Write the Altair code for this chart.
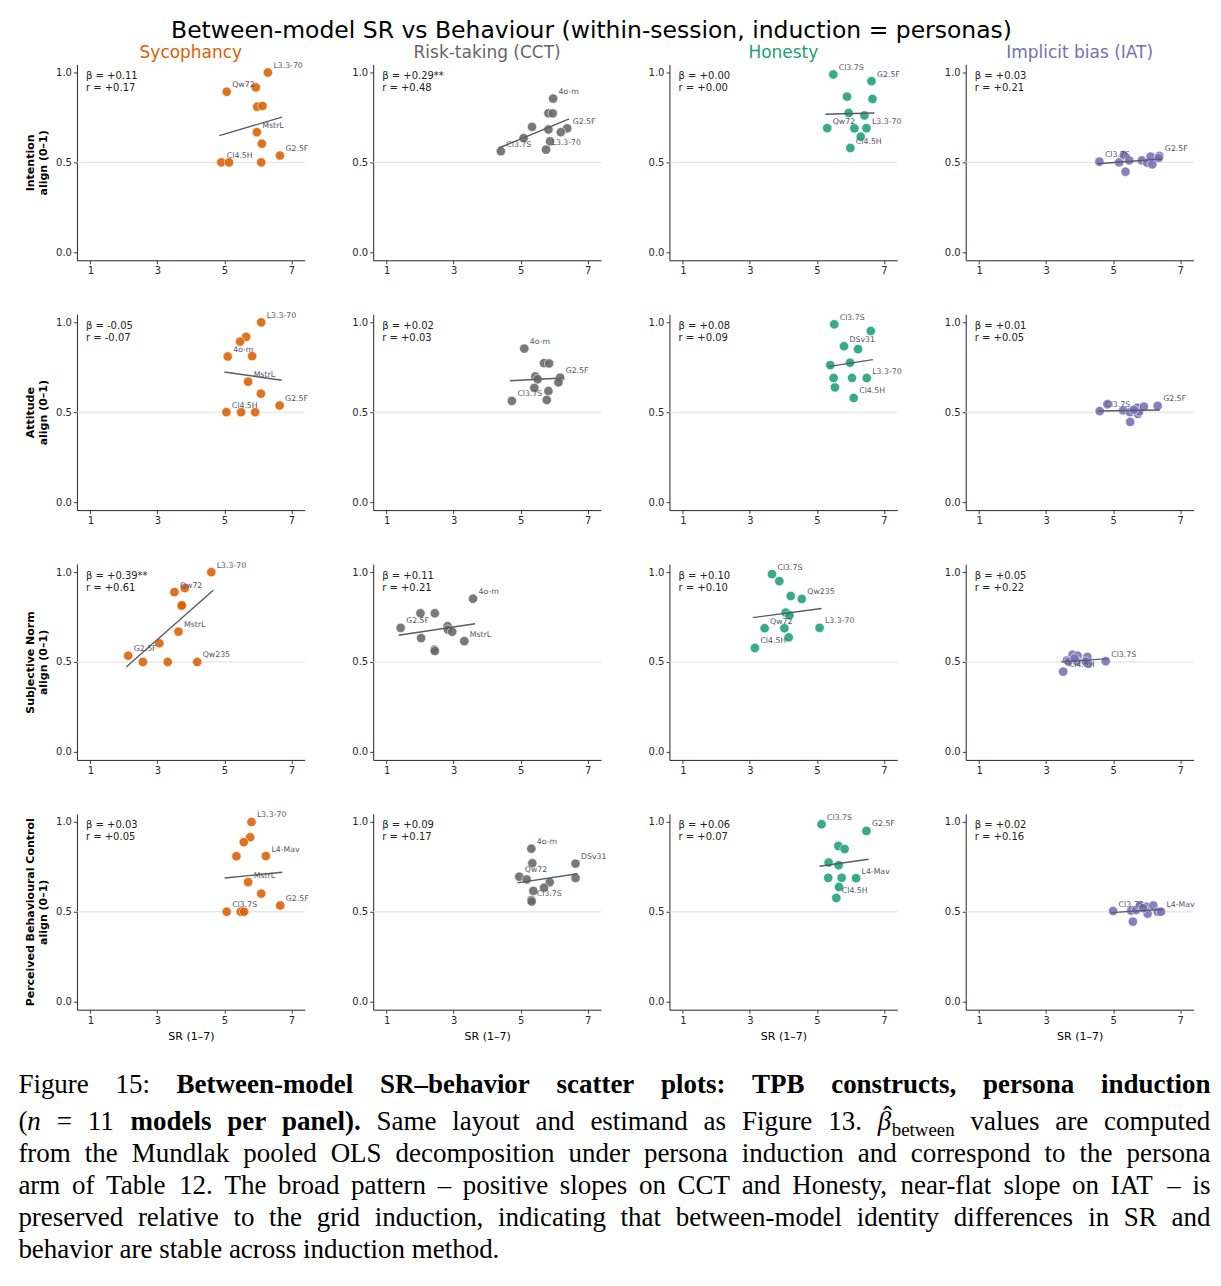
import altair as alt
import pandas as pd

SANS = "DejaVu Sans"
SERIF = "Liberation Serif"

SUPTITLE = "Between-model SR vs Behaviour (within-session, induction = personas)"
BEHAVIOURS = ["Sycophancy", "Risk-taking (CCT)", "Honesty", "Implicit bias (IAT)"]
BEHAVIOUR_COLORS = ["#d95f02", "#666666", "#1b9e77", "#7570b3"]
CONSTRUCTS = ["Intention", "Attitude", "Subjective Norm", "Perceived Behavioural Control"]
Y_UNIT = "align (0–1)"
X_TITLE = "SR (1–7)"
X_TICKS = [1, 3, 5, 7]
Y_TICKS = [0.0, 0.5, 1.0]
NEUTRAL = 0.5

# ---- Intention ----
INT_SYC_SR = [6.30, 5.07, 5.94, 5.98, 6.14, 5.97, 6.12, 6.66, 4.91, 5.14, 6.10]
INT_SYC_AL = [1.000, 0.893, 0.917, 0.810, 0.814, 0.668, 0.604, 0.538, 0.500, 0.500, 0.500]
INT_SYC_LB = ["L3.3-70", "Qw72", "", "", "", "MstrL", "", "G2.5F", "Cl4.5H", "", ""]

INT_CCT_SR = [5.97, 5.83, 5.96, 5.34, 5.83, 6.39, 6.20, 5.09, 5.88, 4.41, 5.76]
INT_CCT_AL = [0.855, 0.773, 0.773, 0.698, 0.683, 0.689, 0.668, 0.635, 0.617, 0.562, 0.571]
INT_CCT_LB = ["4o-m", "", "", "", "", "G2.5F", "", "", "", "Cl3.7S", "L3.3-70"]

INT_HON_SR = [5.49, 6.63, 5.90, 6.66, 5.95, 6.42, 5.31, 6.12, 6.48, 6.31, 6.00]
INT_HON_AL = [0.989, 0.952, 0.866, 0.853, 0.775, 0.761, 0.691, 0.689, 0.691, 0.643, 0.580]
INT_HON_LB = ["Cl3.7S", "G2.5F", "", "", "", "", "Qw72", "", "L3.3-70", "", "Cl4.5H"]

INT_IAT_SR = [4.59, 5.18, 5.32, 5.48, 5.37, 5.86, 6.02, 6.12, 6.17, 6.38, 6.36]
INT_IAT_AL = [0.504, 0.500, 0.540, 0.511, 0.448, 0.511, 0.498, 0.532, 0.489, 0.536, 0.525]
INT_IAT_LB = ["Cl3.7S", "", "", "", "", "", "", "", "", "G2.5F", ""]

# ---- Attitude ----
ATT_SYC_SR = [6.10, 5.65, 5.47, 5.10, 5.83, 5.71, 6.09, 6.65, 5.06, 5.50, 5.92]
ATT_SYC_AL = [1.000, 0.919, 0.893, 0.810, 0.812, 0.670, 0.603, 0.537, 0.500, 0.500, 0.500]
ATT_SYC_LB = ["L3.3-70", "", "", "4o-m", "", "MstrL", "", "G2.5F", "Cl4.5H", "", ""]

ATT_CCT_SR = [5.11, 5.70, 5.85, 5.44, 5.51, 6.18, 6.13, 5.41, 5.83, 4.74, 5.78]
ATT_CCT_AL = [0.854, 0.773, 0.771, 0.699, 0.683, 0.692, 0.666, 0.635, 0.618, 0.563, 0.568]
ATT_CCT_LB = ["4o-m", "", "", "", "", "G2.5F", "", "", "", "Cl3.7S", ""]

ATT_HON_SR = [5.52, 6.61, 5.81, 6.23, 5.99, 5.40, 6.49, 5.50, 6.05, 5.54, 6.10]
ATT_HON_AL = [0.989, 0.952, 0.867, 0.851, 0.775, 0.762, 0.690, 0.690, 0.690, 0.638, 0.579]
ATT_HON_LB = ["Cl3.7S", "", "DSv31", "", "", "", "L3.3-70", "", "", "", "Cl4.5H"]

ATT_IAT_SR = [4.60, 4.83, 5.30, 5.50, 5.51, 5.72, 5.74, 5.78, 5.92, 6.33, 5.62]
ATT_IAT_AL = [0.506, 0.544, 0.510, 0.500, 0.446, 0.525, 0.490, 0.504, 0.531, 0.535, 0.513]
ATT_IAT_LB = ["Cl3.7S", "", "", "", "", "", "", "", "", "G2.5F", ""]

# ---- Subjective Norm ----
SN_SYC_SR = [4.61, 3.51, 3.82, 3.72, 3.73, 3.63, 3.06, 2.13, 2.57, 3.31, 4.19]
SN_SYC_AL = [1.000, 0.889, 0.911, 0.812, 0.815, 0.669, 0.604, 0.535, 0.500, 0.500, 0.500]
SN_SYC_LB = ["L3.3-70", "Qw72", "", "", "", "MstrL", "", "G2.5F", "", "", "Qw235"]

SN_CCT_SR = [3.58, 2.01, 2.44, 1.42, 2.82, 2.83, 2.96, 2.03, 3.32, 2.43, 2.44]
SN_CCT_AL = [0.852, 0.771, 0.771, 0.690, 0.699, 0.680, 0.668, 0.633, 0.616, 0.568, 0.561]
SN_CCT_LB = ["4o-m", "", "", "G2.5F", "", "", "", "", "MstrL", "", ""]

SN_HON_SR = [3.66, 3.88, 4.22, 4.55, 4.07, 4.18, 3.44, 4.03, 5.08, 4.16, 3.15]
SN_HON_AL = [0.989, 0.950, 0.867, 0.851, 0.775, 0.760, 0.688, 0.688, 0.690, 0.637, 0.578]
SN_HON_LB = ["Cl3.7S", "", "", "Qw235", "", "", "Qw72", "", "L3.3-70", "", "Cl4.5H"]

SN_IAT_SR = [3.51, 3.62, 3.79, 3.94, 3.67, 3.91, 4.23, 4.26, 4.18, 4.78, 3.85]
SN_IAT_AL = [0.446, 0.509, 0.540, 0.535, 0.502, 0.505, 0.528, 0.490, 0.502, 0.504, 0.520]
SN_IAT_LB = ["Cl4.5H", "", "", "", "", "", "", "", "", "Cl3.7S", ""]

# ---- Perceived Behavioural Control ----
PBC_SYC_SR = [5.81, 5.77, 5.58, 5.36, 6.24, 5.71, 6.10, 6.67, 5.07, 5.49, 5.59]
PBC_SYC_AL = [1.000, 0.915, 0.888, 0.809, 0.810, 0.665, 0.601, 0.535, 0.500, 0.500, 0.500]
PBC_SYC_LB = ["L3.3-70", "", "", "", "L4-Mav", "MstrL", "", "G2.5F", "Cl3.7S", "", ""]

PBC_CCT_SR = [5.32, 5.35, 6.64, 4.96, 5.18, 6.64, 5.87, 5.70, 5.38, 5.32, 5.33]
PBC_CCT_AL = [0.851, 0.770, 0.768, 0.695, 0.680, 0.688, 0.664, 0.634, 0.616, 0.565, 0.557]
PBC_CCT_LB = ["4o-m", "", "DSv31", "Qw72", "", "", "", "", "", "Cl3.7S", ""]

PBC_HON_SR = [5.14, 6.48, 5.64, 5.83, 5.35, 5.65, 5.34, 5.74, 6.17, 5.66, 5.58]
PBC_HON_AL = [0.987, 0.950, 0.866, 0.849, 0.774, 0.759, 0.689, 0.689, 0.687, 0.638, 0.577]
PBC_HON_LB = ["Cl3.7S", "G2.5F", "", "", "", "", "", "", "L4-Mav", "", "Cl4.5H"]

PBC_IAT_SR = [5.00, 5.54, 5.59, 5.69, 5.81, 5.99, 6.03, 6.20, 6.33, 6.43, 5.90]
PBC_IAT_AL = [0.504, 0.506, 0.445, 0.510, 0.535, 0.528, 0.489, 0.535, 0.500, 0.500, 0.520]
PBC_IAT_LB = ["Cl3.7S", "", "", "", "", "", "", "", "", "L4-Mav", ""]

# between-model slope and correlation, one row per construct
BETA = [
    ["+0.11", "+0.29**", "+0.00", "+0.03"],
    ["-0.05", "+0.02", "+0.08", "+0.01"],
    ["+0.39**", "+0.11", "+0.10", "+0.05"],
    ["+0.03", "+0.09", "+0.06", "+0.02"],
]
R_COEF = [
    ["+0.17", "+0.48", "+0.00", "+0.21"],
    ["-0.07", "+0.03", "+0.09", "+0.05"],
    ["+0.61", "+0.21", "+0.10", "+0.22"],
    ["+0.05", "+0.17", "+0.07", "+0.16"],
]

PANEL_DATA = [
    [(INT_SYC_SR, INT_SYC_AL, INT_SYC_LB), (INT_CCT_SR, INT_CCT_AL, INT_CCT_LB),
     (INT_HON_SR, INT_HON_AL, INT_HON_LB), (INT_IAT_SR, INT_IAT_AL, INT_IAT_LB)],
    [(ATT_SYC_SR, ATT_SYC_AL, ATT_SYC_LB), (ATT_CCT_SR, ATT_CCT_AL, ATT_CCT_LB),
     (ATT_HON_SR, ATT_HON_AL, ATT_HON_LB), (ATT_IAT_SR, ATT_IAT_AL, ATT_IAT_LB)],
    [(SN_SYC_SR, SN_SYC_AL, SN_SYC_LB), (SN_CCT_SR, SN_CCT_AL, SN_CCT_LB),
     (SN_HON_SR, SN_HON_AL, SN_HON_LB), (SN_IAT_SR, SN_IAT_AL, SN_IAT_LB)],
    [(PBC_SYC_SR, PBC_SYC_AL, PBC_SYC_LB), (PBC_CCT_SR, PBC_CCT_AL, PBC_CCT_LB),
     (PBC_HON_SR, PBC_HON_AL, PBC_HON_LB), (PBC_IAT_SR, PBC_IAT_AL, PBC_IAT_LB)],
]

# ---- figure caption (set as justified serif text under the grid) ----
CAPTION_RUNS = [
    [("r", "Figure 15:"), ("b", " Between-model SR–behavior scatter plots: TPB constructs, persona induction")],
    [("r", "("), ("i", "n"), ("r", " = 11 "), ("b", "models per panel)."),
     ("r", " Same layout and estimand as Figure 13. "), ("beta", "β"), ("r", " values are computed")],
    [("r", "from the Mundlak pooled OLS decomposition under persona induction and correspond to the persona")],
    [("r", "arm of Table 12. The broad pattern – positive slopes on CCT and Honesty, near-flat slope on IAT – is")],
    [("r", "preserved relative to the grid induction, indicating that between-model identity differences in SR and")],
    [("r", "behavior are stable across induction method.")],
]

# ---- layout ----
W, H = 228, 196
X_DOMAIN = [0.6, 7.4]
Y_DOMAIN = [-0.045, 1.045]
GRID_LEFT, GRID_TOP = 76.6, 63.3          # absolute position of the first plot area
ROW_STEP = 250
CAP_LEFT, CAP_RIGHT = 18, 1211
CAP_BASELINES = [1093, 1130, 1162, 1194, 1226, 1258]
CAP_SIZE = 27
SUB_SCALE = 0.7
SPACE_W = 0.25
BETA_W = 0.52

REG_W = {}
REG_W.update(zip("abcdefghijklmnopqrstuvwxyz",
                 [444, 500, 444, 500, 444, 333, 500, 500, 278, 278, 500, 278, 778,
                  500, 500, 500, 500, 333, 389, 278, 500, 500, 722, 500, 500, 444]))
REG_W.update(zip("ABCDEFGHIJKLMNOPQRSTUVWXYZ",
                 [722, 667, 667, 722, 611, 556, 722, 722, 333, 389, 722, 611, 889,
                  722, 722, 556, 722, 667, 556, 611, 722, 722, 944, 722, 722, 611]))
REG_W.update(zip("0123456789", [500] * 10))
REG_W.update(zip(".,:()-–=", [250, 250, 278, 333, 333, 333, 500, 564]))

BOLD_W = {}
BOLD_W.update(zip("abcdefghijklmnopqrstuvwxyz",
                  [500, 556, 444, 556, 444, 333, 500, 556, 278, 333, 556, 278, 833,
                   556, 500, 556, 556, 444, 389, 333, 556, 500, 722, 500, 500, 444]))
BOLD_W.update(zip("ABCDEFGHIJKLMNOPQRSTUVWXYZ",
                  [722, 667, 722, 722, 667, 611, 778, 778, 389, 500, 778, 667, 944,
                   722, 778, 611, 778, 722, 556, 667, 722, 722, 1000, 722, 722, 667]))
BOLD_W.update(zip("0123456789", [500] * 10))
BOLD_W.update(zip(".,:()-–=", [250, 250, 333, 333, 333, 333, 500, 570]))


def text_width(text, style):
    table = BOLD_W if style == "b" else REG_W
    return sum(table.get(ch, 500) for ch in text) / 1000.0


def caption_words():
    rows = []
    origin_x = GRID_LEFT
    origin_y = GRID_TOP + 3 * ROW_STEP
    for li, runs in enumerate(CAPTION_RUNS):
        tokens, gap = [], False
        for style, text in runs:
            for j, part in enumerate(text.split(" ")):
                if j > 0:
                    gap = True
                if part:
                    tokens.append((part, style, gap))
                    gap = False
        widths = []
        for part, style, _ in tokens:
            if style == "beta":
                widths.append((BETA_W + text_width("between", "r") * SUB_SCALE) * CAP_SIZE)
            else:
                widths.append(text_width(part, style) * CAP_SIZE)
        n_gaps = sum(1 for t in tokens if t[2])
        natural = sum(widths) + n_gaps * SPACE_W * CAP_SIZE
        last = li == len(CAPTION_RUNS) - 1
        extra = 0 if last else (CAP_RIGHT - CAP_LEFT - natural) / n_gaps
        x, y = CAP_LEFT, CAP_BASELINES[li]
        for (part, style, g), w in zip(tokens, widths):
            if g:
                x += SPACE_W * CAP_SIZE + extra
            if style == "beta":
                rows.append(dict(word="β", style="i", px=x, py=y))
                rows.append(dict(word="ˆ", style="r", px=x + 0.2 * CAP_SIZE, py=y - 0.2 * CAP_SIZE))
                rows.append(dict(word="between", style="sub", px=x + BETA_W * CAP_SIZE, py=y + 0.2 * CAP_SIZE))
            else:
                rows.append(dict(word=part, style=style, px=x, py=y))
            x += w
    df = pd.DataFrame(rows)
    df["px"] = df["px"] - origin_x
    df["py"] = df["py"] - origin_y
    return df


def caption_layers():
    df = caption_words()
    specs = {
        "r": dict(fontSize=CAP_SIZE),
        "b": dict(fontSize=CAP_SIZE, fontWeight="bold"),
        "i": dict(fontSize=CAP_SIZE, fontStyle="italic"),
        "sub": dict(fontSize=CAP_SIZE * SUB_SCALE),
    }
    layers = []
    for style, kw in specs.items():
        layers.append(
            alt.Chart(df).transform_filter(alt.datum.style == style)
            .mark_text(align="left", baseline="alphabetic", font=SERIF, color="black", **kw)
            .encode(x=alt.X("px:Q", scale=None, axis=None),
                    y=alt.Y("py:Q", scale=None, axis=None),
                    text="word:N")
        )
    return layers


def panel(r, c):
    sr, al, lb = PANEL_DATA[r][c]
    df = pd.DataFrame({"sr": sr, "align": al, "label": lb})
    color = BEHAVIOUR_COLORS[c]

    x_axis = alt.Axis(values=X_TICKS, format="d",
                      title=X_TITLE if r == 3 else None,
                      titleFontSize=11, titleFontWeight="normal", titlePadding=5)
    if c == 0:
        y_axis = alt.Axis(values=Y_TICKS, format=".1f", title=[CONSTRUCTS[r], Y_UNIT],
                          titleFontSize=11, titleFontWeight="bold", titleLineHeight=12.5,
                          titlePadding=7.5)
    else:
        y_axis = alt.Axis(values=Y_TICKS, format=".1f", title=None)
    xenc = alt.X("sr:Q", scale=alt.Scale(domain=X_DOMAIN, nice=False, zero=False), axis=x_axis)
    yenc = alt.Y("align:Q", scale=alt.Scale(domain=Y_DOMAIN, nice=False, zero=False), axis=y_axis)

    base = alt.Chart(df)
    ref = alt.Chart(pd.DataFrame({"align": [NEUTRAL]})).mark_rule(
        color="#dedede", strokeWidth=1).encode(y=yenc)
    fit = base.transform_regression(
        on="sr", regression="align", extent=[min(sr) - 0.06, max(sr) + 0.06]
    ).mark_line(color="#5a5a6a", strokeWidth=1.4).encode(x=xenc, y=yenc)
    pts = base.mark_circle(size=88, color=color, fillOpacity=0.88, stroke="white",
                           strokeWidth=0.6).encode(x=xenc, y=yenc)
    lbl = base.transform_filter("datum.label != ''").mark_text(
        align="left", baseline="alphabetic", dx=5.5, dy=-4.5, font=SANS, fontSize=7.8,
        color="#555566").encode(x=xenc, y=yenc, text="label:N")
    ann = alt.Chart(pd.DataFrame({"t": [f"β = {BETA[r][c]}\nr = {R_COEF[r][c]}"]})).mark_text(
        align="left", baseline="alphabetic", lineBreak="\n", lineHeight=12, font=SANS,
        fontSize=10, color="#222222").encode(x=alt.value(9), y=alt.value(14.6), text="t:N")

    layers = [ref, pts, fit, lbl, ann]
    if r == 0:
        layers.append(
            alt.Chart(pd.DataFrame({"t": [BEHAVIOURS[c]]})).mark_text(
                align="center", baseline="alphabetic", font=SANS, fontSize=17, color=color
            ).encode(x=alt.value(W / 2), y=alt.value(-6.8), text="t:N")
        )
    if r == 0 and c == 0:
        layers.append(
            alt.Chart(pd.DataFrame({"t": [SUPTITLE]})).mark_text(
                align="center", baseline="alphabetic", font=SANS, fontSize=23.5, color="black"
            ).encode(x=alt.value(591.6 - GRID_LEFT), y=alt.value(37.3 - GRID_TOP), text="t:N")
        )
    if r == 3 and c == 0:
        layers.extend(caption_layers())
    return alt.layer(*layers).properties(width=W, height=H)


panels = [panel(r, c) for r in range(4) for c in range(4)]

chart = alt.concat(
    *panels, columns=4, bounds="flush", spacing={"row": ROW_STEP - H, "column": 68.5}
).properties(
    padding={"left": CAP_LEFT, "top": 19, "right": 10, "bottom": 10}
).configure_view(stroke=None).configure_axis(
    domainColor="#262626", domainWidth=1, tickColor="#262626", tickWidth=0.9, tickSize=3.5,
    labelFont=SANS, labelFontSize=10, labelColor="#262626", labelPadding=2,
    titleFont=SANS, titleColor="black", grid=False, labelFlush=False
)

chart.save("out.html", embed_options={"renderer": "svg", "actions": False})
